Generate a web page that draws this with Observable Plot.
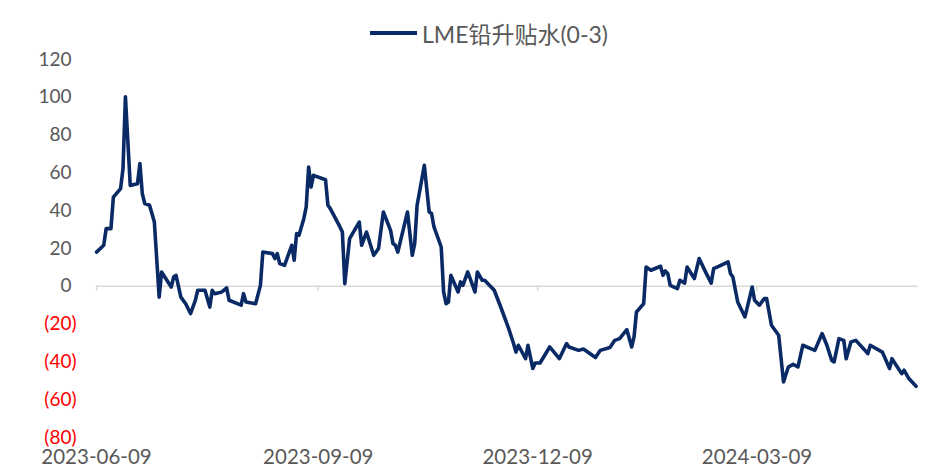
<!DOCTYPE html>
<html>
<head>
<meta charset="utf-8">
<script src="https://cdn.jsdelivr.net/npm/d3@7"></script>
<script src="https://cdn.jsdelivr.net/npm/@observablehq/plot@0.6"></script>
<style>
  html, body { margin: 0; padding: 0; background: #fff; }
  #wrap { position: relative; width: 925px; height: 467px; font-family: Lato, "Noto Sans CJK SC", sans-serif; }
  #legend { position: absolute; top: 16px; left: 370px; display: flex; align-items: center; color: #595959; font-size: 23px; white-space: nowrap; font-family: Lato, "Noto Sans CJK SC", sans-serif; }
  #legend .sw { display: inline-block; width: 47px; height: 3.6px; background: #0a2a66; margin-right: 5px; }
</style>
</head>
<body>
<div id="wrap">
  <div id="legend"><span class="sw"></span><span>LME铅升贴水(0-3)</span></div>
</div>
<script>
const seriesName = "LME铅升贴水(0-3)";
const dates = [
  "2023-06-09","2023-06-12","2023-06-13","2023-06-15","2023-06-16","2023-06-19","2023-06-20","2023-06-21","2023-06-23","2023-06-26",
  "2023-06-27","2023-06-28","2023-06-29","2023-07-01","2023-07-02","2023-07-03","2023-07-05","2023-07-06","2023-07-10","2023-07-11",
  "2023-07-12","2023-07-14","2023-07-16","2023-07-18","2023-07-20","2023-07-21","2023-07-24","2023-07-26","2023-07-27","2023-07-28",
  "2023-07-31","2023-08-02","2023-08-03","2023-08-08","2023-08-09","2023-08-10","2023-08-14","2023-08-16","2023-08-17","2023-08-21",
  "2023-08-22","2023-08-23","2023-08-24","2023-08-26","2023-08-29","2023-08-30","2023-08-31","2023-09-01","2023-09-03","2023-09-04",
  "2023-09-05","2023-09-06","2023-09-07","2023-09-12","2023-09-13","2023-09-14","2023-09-18","2023-09-19","2023-09-20","2023-09-22",
  "2023-09-26","2023-09-27","2023-09-29","2023-10-02","2023-10-04","2023-10-06","2023-10-09","2023-10-10","2023-10-11","2023-10-12",
  "2023-10-16","2023-10-18","2023-10-19","2023-10-20","2023-10-23","2023-10-25","2023-10-26","2023-10-27","2023-10-30","2023-10-31",
  "2023-11-01","2023-11-02","2023-11-03","2023-11-06","2023-11-07","2023-11-08","2023-11-10","2023-11-13","2023-11-14","2023-11-16",
  "2023-11-17","2023-11-21","2023-11-24","2023-11-27","2023-11-29","2023-11-30","2023-12-01","2023-12-04","2023-12-05","2023-12-07",
  "2023-12-08","2023-12-10","2023-12-14","2023-12-18","2023-12-21","2023-12-22","2023-12-26","2023-12-28","2024-01-02","2024-01-04",
  "2024-01-08","2024-01-10","2024-01-12","2024-01-15","2024-01-17","2024-01-18","2024-01-19","2024-01-22","2024-01-23","2024-01-25",
  "2024-01-29","2024-01-30","2024-01-31","2024-02-01","2024-02-02","2024-02-05","2024-02-06","2024-02-08","2024-02-09","2024-02-12",
  "2024-02-14","2024-02-17","2024-02-19","2024-02-20","2024-02-23","2024-02-26","2024-02-27","2024-02-28","2024-03-01","2024-03-04",
  "2024-03-07","2024-03-08","2024-03-10","2024-03-12","2024-03-13","2024-03-15","2024-03-18","2024-03-20","2024-03-22","2024-03-24",
  "2024-03-26","2024-03-28","2024-04-02","2024-04-05","2024-04-07","2024-04-09","2024-04-10","2024-04-12","2024-04-14","2024-04-15",
  "2024-04-17","2024-04-19","2024-04-24","2024-04-25","2024-04-30","2024-05-01","2024-05-03","2024-05-04","2024-05-08","2024-05-09",
  "2024-05-11","2024-05-14"
];
const values = [
  18.1, 21.7, 30.5, 30.5, 47.2, 51.7, 62.3, 100.2, 53.4, 54.3,
  64.9, 49.0, 43.8, 42.9, 38.5, 34.0, -5.7, 7.6, -0.4, 4.9,
  5.8, -5.7, -9.2, -14.4, -7.4, -2.1, -2.1, -11.0, -2.1, -3.9,
  -3.0, -0.9, -7.4, -10.0, -3.9, -8.3, -9.2, 0.5, 18.1, 17.3,
  14.7, 17.3, 12.0, 11.1, 21.7, 13.8, 27.9, 27.0, 35.8, 42.0,
  63.1, 52.5, 58.7, 56.4, 42.9, 41.1, 31.4, 28.7, 1.4, 25.2,
  34.0, 21.7, 28.7, 16.4, 20.0, 39.3, 29.6, 22.6, 21.7, 18.1,
  39.3, 16.4, 22.6, 42.9, 64.0, 39.3, 38.5, 31.4, 20.8, -3.0,
  -9.2, -8.3, 5.8, -3.0, 2.3, 0.5, 7.6, -3.0, 7.6, 3.2,
  3.2, -2.1, -12.0, -22.4, -30.3, -34.8, -31.2, -38.3, -31.2, -43.5,
  -40.6, -40.6, -32.1, -38.3, -30.3, -32.1, -33.9, -33.2, -37.7, -33.9,
  -32.4, -28.6, -27.7, -22.9, -32.1, -26.8, -13.6, -9.2, 10.2, 8.5,
  10.6, 5.8, 8.1, 6.7, 0.5, -1.2, 3.2, 1.7, 10.2, 4.1,
  14.7, 6.7, 1.7, 9.3, 11.1, 12.9, 6.7, 4.9, -8.3, -16.2,
  -0.4, -7.4, -10.0, -6.5, -6.5, -20.6, -25.9, -50.6, -42.7, -41.3,
  -42.7, -31.2, -33.9, -25.0, -31.2, -39.2, -40.0, -27.7, -28.6, -38.3,
  -29.4, -28.6, -35.6, -31.2, -34.8, -37.7, -43.5, -38.3, -46.2, -44.4,
  -48.8, -52.9
];
const xTickLabels = ["2023-06-09", "2023-09-09", "2023-12-09", "2024-03-09"];
const yTicks = [-80, -60, -40, -20, 0, 20, 40, 60, 80, 100, 120];
const xDomain = ["2023-06-09", "2024-05-15"];

const parse = d3.utcParse("%Y-%m-%d");
const data = dates.map((d, i) => ({date: parse(d), value: values[i]}));
const xTicks = xTickLabels.map(parse);
const fmtY = v => v < 0 ? `(${-v})` : `${v}\u00a0`;

const chart = Plot.plot({
  width: 925,
  height: 467,
  marginTop: 59,
  marginBottom: 30,
  marginLeft: 96,
  marginRight: 7,
  style: {fontFamily: "Lato, 'Noto Sans CJK SC', sans-serif", fontSize: "19px", background: "#fff"},
  x: {type: "utc", domain: xDomain.map(parse), label: null},
  y: {domain: [-80, 120], label: null},
  marks: [
    Plot.ruleY([0], {stroke: "#d9d9d9", strokeWidth: 1.5}),
    Plot.ruleX(xTicks, {y1: 0, y2: -2.6, stroke: "#d9d9d9", strokeWidth: 1.5}),
    Plot.axisY(yTicks, {tickSize: 0, tickPadding: 20, textAnchor: "end", tickFormat: fmtY, label: null,
      fill: d => d < 0 ? "#ff0000" : "#595959", fontSize: 19}),
    Plot.axisX(xTicks, {tickSize: 0, tickPadding: 12, tickFormat: d3.utcFormat("%Y-%m-%d"), label: null,
      fill: "#595959", fontSize: 20.5}),
    Plot.line(data, {x: "date", y: "value", stroke: "#0a2a66", strokeWidth: 3.6, strokeLinejoin: "round", strokeLinecap: "round"})
  ]
});
document.getElementById("wrap").prepend(chart);
chart.style.position = "absolute";
chart.style.left = "0";
chart.style.top = "0";
</script>
</body>
</html>
